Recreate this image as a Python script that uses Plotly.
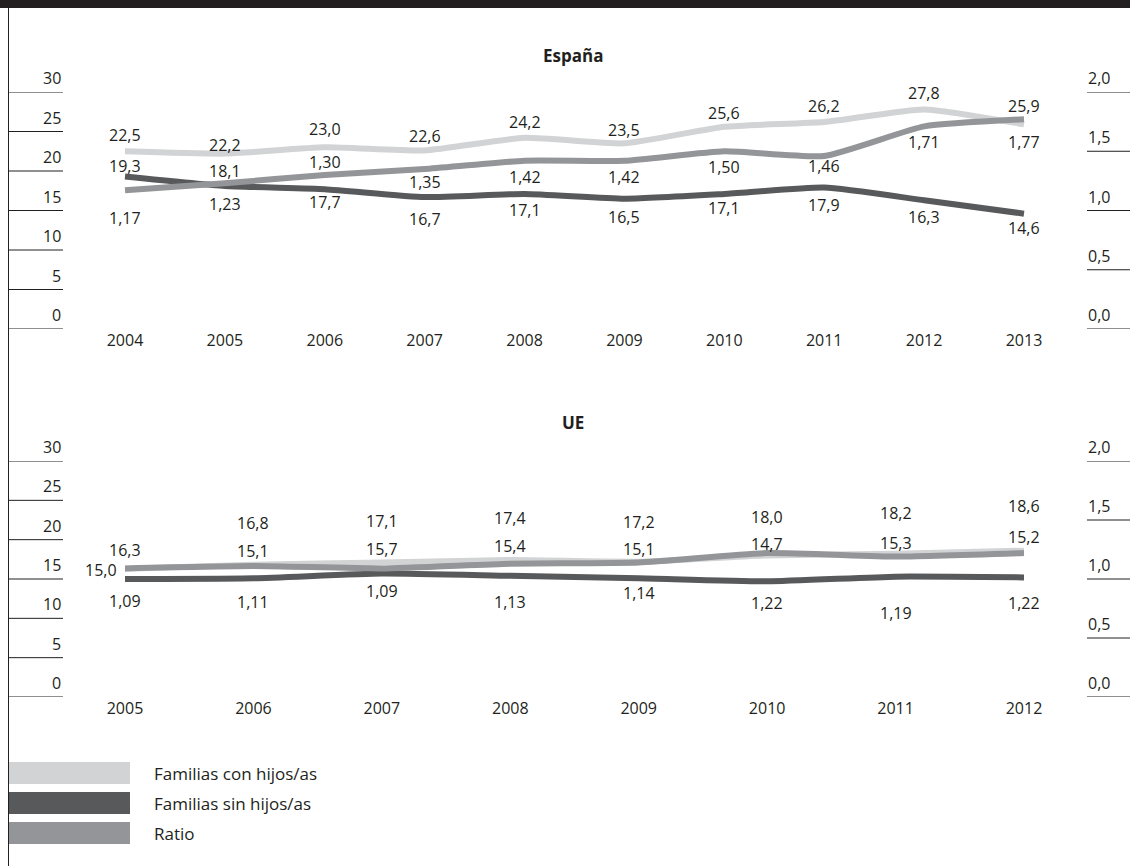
import plotly.graph_objects as go

# ---------------- data ----------------
esp_years = [2004, 2005, 2006, 2007, 2008, 2009, 2010, 2011, 2012, 2013]
esp_con = [22.5, 22.2, 23.0, 22.6, 24.2, 23.5, 25.6, 26.2, 27.8, 25.9]
esp_sin = [19.3, 18.1, 17.7, 16.7, 17.1, 16.5, 17.1, 17.9, 16.3, 14.6]
esp_ratio = [1.17, 1.23, 1.30, 1.35, 1.42, 1.42, 1.50, 1.46, 1.71, 1.77]

ue_years = [2005, 2006, 2007, 2008, 2009, 2010, 2011, 2012]
ue_con = [16.3, 16.8, 17.1, 17.4, 17.2, 18.0, 18.2, 18.6]
ue_sin = [15.0, 15.1, 15.7, 15.4, 15.1, 14.7, 15.3, 15.2]
ue_ratio = [1.09, 1.11, 1.09, 1.13, 1.14, 1.22, 1.19, 1.22]

left_ticks = [0, 5, 10, 15, 20, 25, 30]
right_ticks = [0.0, 0.5, 1.0, 1.5, 2.0]
series_names = ["Familias con hijos/as", "Familias sin hijos/as", "Ratio"]
panel_titles = ["España", "UE"]

# ---------------- styles ----------------
W, H = 1130, 866
C_LIGHT = "#d1d3d4"
C_DARK = "#58595b"
C_MID = "#939598"
TXT = "#231f20"
FONT = "Open Sans"
NUM_SIZE = 16
LEG_SIZE = 17
LW = 6

# label offsets (pixels, positive = above the point)
esp_con_shift = [16, 9, 18, 14, 16, 13, 14, 16, 16, 18]
esp_sin_shift = [11, 15, -13, -22, -16, -18, -14, -17, -17, -14]
esp_ratio_shift = [-28, -21, 13, -13, -16, -16, -16, -10, -16, -23]
ue_con_shift = [19, 42, 41, 42, 40, 38, 41, 45]
ue_sin_shift = [9, 27, 24, 30, 29, 37, 34, 40]
ue_ratio_shift = [-33, -36, -23, -38, -31, -50, -56, -50]


def py(px):
    return 1 - px / H


def px_x(px):
    return px / W


fig = go.Figure()


def add_series(x, y, color, xa, ya):
    fig.add_trace(go.Scatter(
        x=x, y=y, mode="lines", xaxis=xa, yaxis=ya,
        line=dict(color=color, width=LW, shape="spline", smoothing=0.5),
        showlegend=False, hoverinfo="skip"))


# España
add_series(esp_years, esp_con, C_LIGHT, "x", "y")
add_series(esp_years, esp_ratio, C_MID, "x", "y2")
add_series(esp_years, esp_sin, C_DARK, "x", "y")
# UE
add_series(ue_years, ue_con, C_LIGHT, "x2", "y3")
add_series(ue_years, ue_ratio, C_MID, "x2", "y4")
add_series(ue_years, ue_sin, C_DARK, "x2", "y3")

annotations = []
shapes = []


def fmt(v, d):
    return f"{v:.{d}f}".replace(".", ",")


def add_labels(xs, ys, shifts, xref, yref, dec, special_left=False):
    for i, (xv, yv, s) in enumerate(zip(xs, ys, shifts)):
        a = dict(x=xv, y=yv, xref=xref, yref=yref, text=fmt(yv, dec),
                 showarrow=False, yshift=s, yanchor="middle", xanchor="center",
                 font=dict(family=FONT, size=NUM_SIZE, color=TXT))
        if special_left and i == 0:
            a.update(xanchor="right", xshift=-6)
        annotations.append(a)


add_labels(esp_years, esp_con, esp_con_shift, "x", "y", 1)
add_labels(esp_years, esp_sin, esp_sin_shift, "x", "y", 1)
add_labels(esp_years, esp_ratio, esp_ratio_shift, "x", "y2", 2)
add_labels(ue_years, ue_con, ue_con_shift, "x2", "y3", 1)
add_labels(ue_years, ue_sin, ue_sin_shift, "x2", "y3", 1, special_left=True)
add_labels(ue_years, ue_ratio, ue_ratio_shift, "x2", "y4", 2)

# custom axis ticks
for yl, yr in (("y", "y2"), ("y3", "y4")):
    for v in left_ticks:
        shapes.append(dict(type="line", xref="paper", yref=yl,
                           x0=px_x(8), x1=px_x(63), y0=v, y1=v,
                           line=dict(color=TXT, width=1)))
        annotations.append(dict(x=px_x(63), y=v, xref="paper", yref=yl,
                                text=str(v), showarrow=False, xanchor="right",
                                yanchor="bottom", yshift=1,
                                font=dict(family=FONT, size=NUM_SIZE, color=TXT)))
    for r in right_ticks:
        shapes.append(dict(type="line", xref="paper", yref=yr,
                           x0=px_x(1087), x1=1, y0=r, y1=r,
                           line=dict(color=TXT, width=1)))
        annotations.append(dict(x=px_x(1086), y=r, xref="paper", yref=yr,
                                text=fmt(r, 1), showarrow=False, xanchor="left",
                                yanchor="bottom", yshift=1,
                                font=dict(family=FONT, size=NUM_SIZE, color=TXT)))

# panel titles
for t, ypx in zip(panel_titles, (55, 422)):
    annotations.append(dict(x=px_x(573), y=py(ypx), xref="paper", yref="paper",
                            text=f"<b>{t}</b>", showarrow=False,
                            xanchor="center", yanchor="middle",
                            font=dict(family=FONT, size=17, color=TXT)))

# top bar and left border
shapes.append(dict(type="rect", xref="paper", yref="paper", x0=0, x1=1,
                   y0=py(8), y1=1, fillcolor=TXT, line=dict(width=0)))
shapes.append(dict(type="line", xref="paper", yref="paper", x0=px_x(8.5),
                   x1=px_x(8.5), y0=0, y1=py(8),
                   line=dict(color=TXT, width=1)))

# legend
leg_colors = [C_LIGHT, C_DARK, C_MID]
leg_tops = [762, 792, 822]
for name, col, top in zip(series_names, leg_colors, leg_tops):
    shapes.append(dict(type="rect", xref="paper", yref="paper",
                       x0=px_x(9), x1=px_x(130), y0=py(top + 22), y1=py(top),
                       fillcolor=col, line=dict(width=0)))
    annotations.append(dict(x=px_x(152), y=py(top + 11), xref="paper",
                            yref="paper", text=name, showarrow=False,
                            xanchor="left", yanchor="middle",
                            font=dict(family=FONT, size=LEG_SIZE, color=TXT)))

# axis geometry
xdom = [px_x(63), px_x(1087)]
esp_ppy = (1024 - 125) / 9
ue_ppy = (1024 - 125) / 7
esp_range = [2004 - (125 - 63) / esp_ppy, 2013 + (1087 - 1024) / esp_ppy]
ue_range = [2005 - (125 - 63) / ue_ppy, 2012 + (1087 - 1024) / ue_ppy]

hidden_y = dict(showgrid=False, zeroline=False, showticklabels=False,
                showline=False, ticks="", fixedrange=True)
xstyle = dict(showgrid=False, zeroline=False, showline=False, ticks="",
              tickfont=dict(family=FONT, size=NUM_SIZE, color=TXT))

fig.update_layout(
    width=W, height=H,
    margin=dict(l=0, r=0, t=0, b=0),
    paper_bgcolor="white", plot_bgcolor="white",
    showlegend=False,
    xaxis=dict(domain=xdom, anchor="y", range=esp_range,
               tickvals=esp_years, ticktext=[str(y) for y in esp_years], **xstyle),
    yaxis=dict(domain=[py(329), py(92)], range=[0, 30], **hidden_y),
    yaxis2=dict(overlaying="y", side="right", range=[0, 2], anchor="x", **hidden_y),
    xaxis2=dict(domain=xdom, anchor="y3", range=ue_range,
                tickvals=ue_years, ticktext=[str(y) for y in ue_years], **xstyle),
    yaxis3=dict(domain=[py(697), py(461)], range=[0, 30], anchor="x2", **hidden_y),
    yaxis4=dict(overlaying="y3", side="right", range=[0, 2], anchor="x2", **hidden_y),
    annotations=annotations,
    shapes=shapes,
)

fig.write_html("out.html",
               config={"displayModeBar": False, "staticPlot": True},
               post_script="document.body.style.margin='0px';"
                           "document.body.style.overflow='hidden';")
